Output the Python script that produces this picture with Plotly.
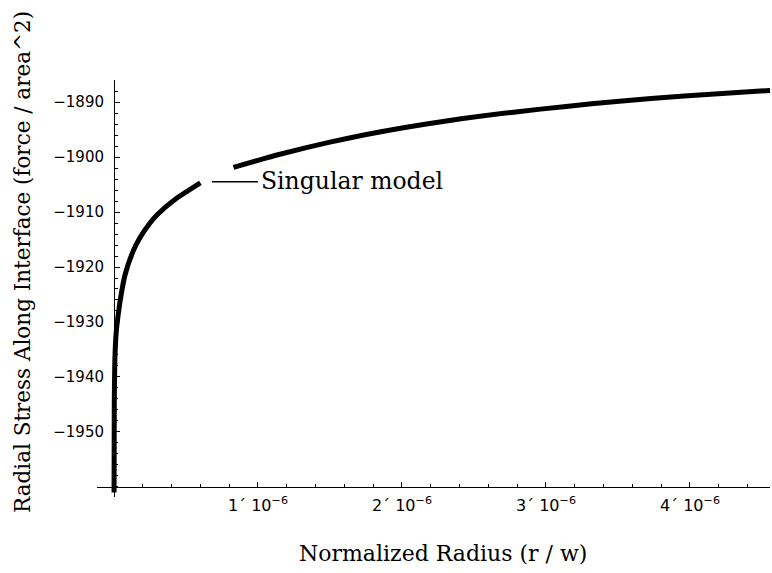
import plotly.graph_objects as go

# Singular model curve (two segments separated by a gap for the label)
r_seg1 = [0.0005e-6, 0.002e-6, 0.006e-6, 0.015e-6, 0.03e-6, 0.05e-6, 0.076e-6,
          0.13e-6, 0.18e-6, 0.25e-6, 0.30e-6, 0.43e-6, 0.60e-6]
s_seg1 = [-1961.0, -1945.0, -1937.0, -1932.0, -1928.5, -1925.0, -1921.5,
          -1917.3, -1914.7, -1912.0, -1910.5, -1907.6, -1904.7]
r_seg2 = [0.83e-6, 1.0e-6, 1.153e-6, 1.5e-6, 1.854e-6, 2.32e-6, 2.79e-6,
          3.14e-6, 3.49e-6, 3.96e-6, 4.56e-6]
s_seg2 = [-1901.9, -1900.6, -1899.5, -1897.3, -1895.4, -1893.4, -1891.8,
          -1890.8, -1889.9, -1888.9, -1887.9]

x_tickvals = [1e-6, 2e-6, 3e-6, 4e-6]
x_ticktext = ["1\u00b4 10<sup>\u22126</sup>", "2\u00b4 10<sup>\u22126</sup>",
              "3\u00b4 10<sup>\u22126</sup>", "4\u00b4 10<sup>\u22126</sup>"]
y_tickvals = [-1950, -1940, -1930, -1920, -1910, -1900, -1890]
y_ticktext = ["\u2212" + str(abs(v)) for v in y_tickvals]

label_text = "Singular model"
x_title = "Normalized Radius (r / w)"
y_title = "Radial Stress Along Interface (force / area^2)"

x = r_seg1 + [None] + r_seg2
y = s_seg1 + [None] + s_seg2

fig = go.Figure()
fig.add_trace(go.Scatter(x=x, y=y, mode="lines", connectgaps=False,
                         line=dict(color="black", width=5, shape="spline", smoothing=0.6),
                         hoverinfo="skip", showlegend=False))

xr = [-0.118e-6, 4.556e-6]
yr = [-1961.82, -1886.0]
xpos = (0 - xr[0]) / (xr[1] - xr[0])
ypos = (-1960 - yr[0]) / (yr[1] - yr[0])

fig.update_layout(
    width=772, height=573,
    margin=dict(l=97, r=2, t=80, b=76),
    plot_bgcolor="white", paper_bgcolor="white",
    xaxis=dict(range=xr, anchor="free", position=ypos, showline=True, linecolor="black",
               linewidth=1, showgrid=False, zeroline=False, tickmode="array",
               tickvals=x_tickvals, ticktext=x_ticktext, ticks="inside", ticklen=5,
               tickcolor="black", tickfont=dict(family="DejaVu Sans", size=16, color="black"),
               ticklabelstandoff=4,
               minor=dict(tick0=0, dtick=0.2e-6, ticks="inside", ticklen=3, tickcolor="black")),
    yaxis=dict(range=yr, anchor="free", position=xpos, showline=True, linecolor="black",
               linewidth=1, showgrid=False, zeroline=False, tickmode="array",
               tickvals=y_tickvals, ticktext=y_ticktext, ticks="inside", ticklen=5,
               tickcolor="black", tickfont=dict(family="DejaVu Sans", size=15, color="black"),
               ticklabelstandoff=7,
               minor=dict(tick0=-1960, dtick=2, ticks="inside", ticklen=3, tickcolor="black")),
)

# leader line and label
fig.add_shape(type="line", xref="x", yref="y", x0=0.68e-6, x1=1.0e-6, y0=-1904.5, y1=-1904.5,
              line=dict(color="black", width=1.5))
fig.add_annotation(x=1.01e-6, y=-1904.4, xref="x", yref="y", text=label_text, showarrow=False,
                   xanchor="left", yanchor="middle",
                   font=dict(family="DejaVu Serif", size=23.5, color="black"))

# axis titles
fig.add_annotation(x=(443 - 97) / 673, y=(497 - 553) / 417, xref="paper", yref="paper",
                   text=x_title, showarrow=False, xanchor="center", yanchor="middle",
                   font=dict(family="DejaVu Serif", size=22, color="black"))
fig.add_annotation(x=(22 - 97) / 673, y=(497 - 262) / 417, xref="paper", yref="paper",
                   text=y_title, showarrow=False, textangle=-90, xanchor="center", yanchor="middle",
                   font=dict(family="DejaVu Serif", size=21.5, color="black"))
fig.write_html("out.html")
